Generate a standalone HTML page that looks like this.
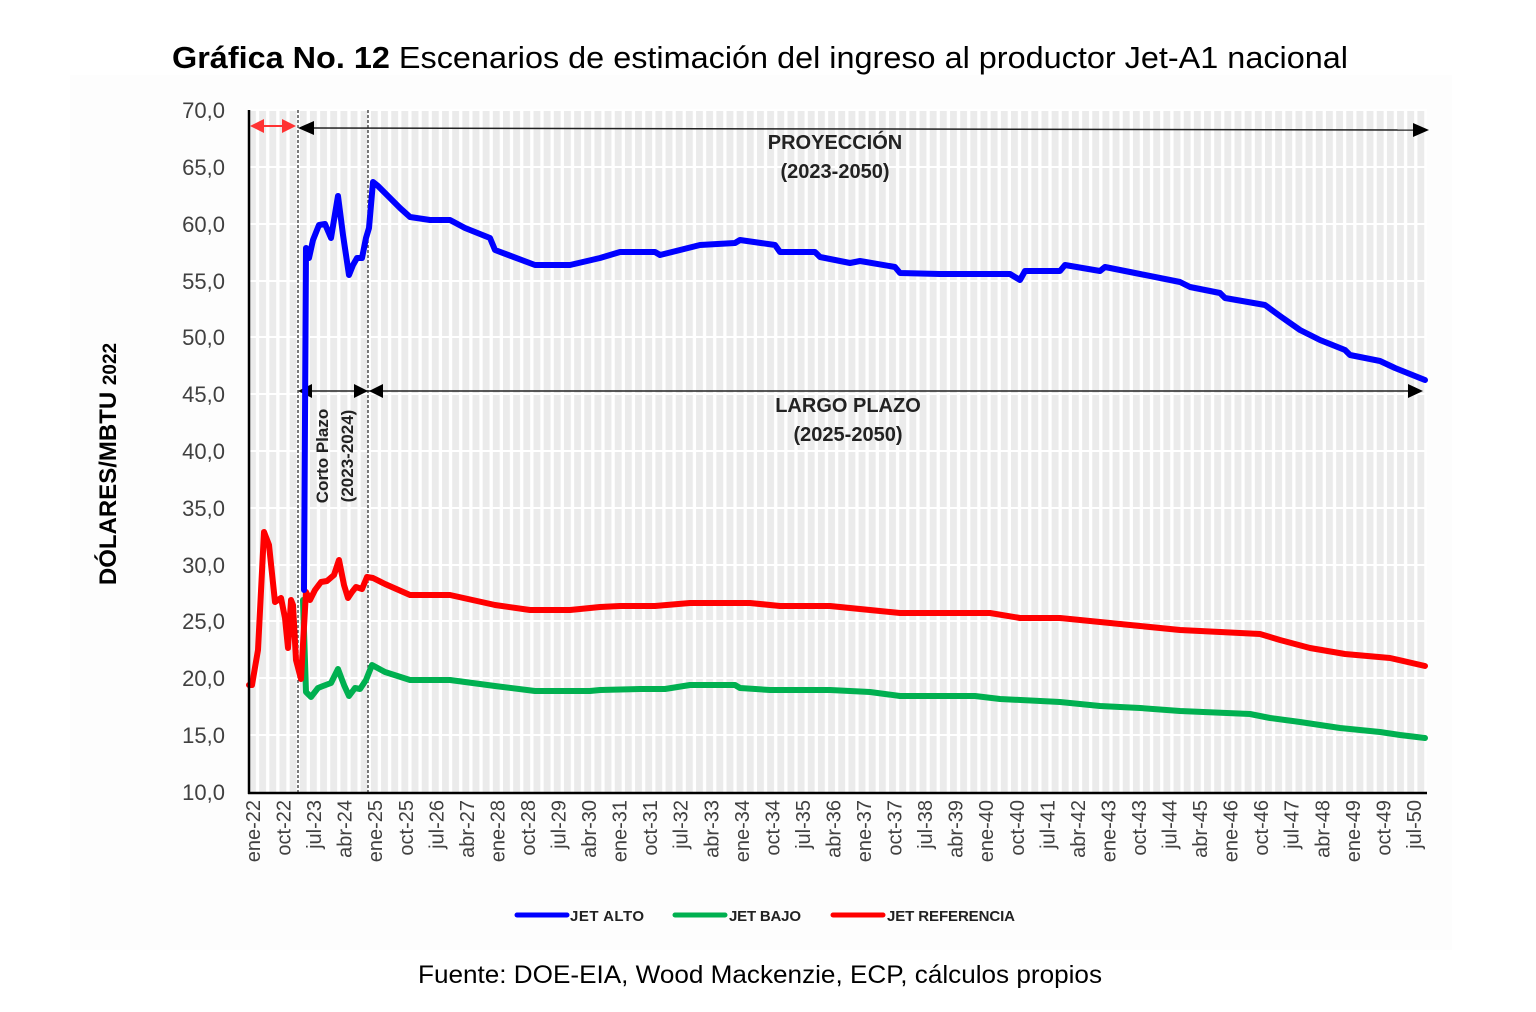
<!DOCTYPE html>
<html><head><meta charset="utf-8"><style>
html,body{margin:0;padding:0;background:#fff;}
svg{display:block;font-family:"Liberation Sans",sans-serif;}
</style></head><body>
<svg width="1536" height="1012" viewBox="0 0 1536 1012" xmlns="http://www.w3.org/2000/svg">
<defs>
<pattern id="st" x="249" y="0" width="10.16" height="10" patternUnits="userSpaceOnUse">
<rect x="0" y="0" width="7" height="10" fill="#ebebeb"/>
<rect x="7" y="0" width="3.16" height="10" fill="#fff"/>
</pattern>
</defs>
<rect x="70" y="75" width="1382" height="875" fill="#fdfdfd"/>
<text x="172" y="68" font-size="31" fill="#000" textLength="1176" lengthAdjust="spacingAndGlyphs"><tspan font-weight="bold">Gráfica No. 12</tspan> Escenarios de estimación del ingreso al productor Jet-A1 nacional</text>
<rect x="249" y="110" width="1178" height="682" fill="url(#st)"/>
<g stroke="#fff" stroke-width="2">
<line x1="249" x2="1427" y1="110" y2="110"/><line x1="249" x2="1427" y1="167" y2="167"/>
<line x1="249" x2="1427" y1="224" y2="224"/><line x1="249" x2="1427" y1="281" y2="281"/>
<line x1="249" x2="1427" y1="337" y2="337"/><line x1="249" x2="1427" y1="394" y2="394"/>
<line x1="249" x2="1427" y1="451" y2="451"/><line x1="249" x2="1427" y1="508" y2="508"/>
<line x1="249" x2="1427" y1="565" y2="565"/><line x1="249" x2="1427" y1="621" y2="621"/>
<line x1="249" x2="1427" y1="678" y2="678"/><line x1="249" x2="1427" y1="735" y2="735"/>
</g>
<g font-size="22" fill="#404040" text-anchor="end">
<text x="225" y="118">70,0</text><text x="225" y="175">65,0</text><text x="225" y="232">60,0</text>
<text x="225" y="289">55,0</text><text x="225" y="345">50,0</text><text x="225" y="402">45,0</text>
<text x="225" y="459">40,0</text><text x="225" y="516">35,0</text><text x="225" y="573">30,0</text>
<text x="225" y="629">25,0</text><text x="225" y="686">20,0</text><text x="225" y="743">15,0</text>
<text x="225" y="800">10,0</text>
</g>
<text transform="translate(116,464) rotate(-90)" text-anchor="middle" font-size="24" font-weight="bold">DÓLARES/MBTU <tspan font-size="19">2022</tspan></text>
<g stroke="#333" stroke-width="1.3" stroke-dasharray="3,2">
<line x1="298" y1="110" x2="298" y2="792"/><line x1="368" y1="110" x2="368" y2="792"/>
</g>
<line x1="312" y1="128" x2="1414" y2="130" stroke="#222" stroke-width="1.5"/>
<polygon points="298,128 314,121 314,135" fill="#000"/>
<polygon points="1429,130 1413,123 1413,137" fill="#000"/>
<line x1="262" y1="126" x2="284" y2="126" stroke="#f33" stroke-width="2"/>
<polygon points="250,126 264,119 264,133" fill="#f33"/>
<polygon points="296,126 282,119 282,133" fill="#f33"/>
<line x1="310" y1="391" x2="1410" y2="391" stroke="#222" stroke-width="1.5"/>
<polygon points="298,391 312,384 312,398" fill="#000"/>
<polygon points="368,391 354,384 354,398" fill="#000"/>
<polygon points="369,391 383,384 383,398" fill="#000"/>
<polygon points="1423,391 1408,384 1408,398" fill="#000"/>
<g font-size="20" font-weight="bold" fill="#222" text-anchor="middle">
<text x="835" y="149">PROYECCIÓN</text><text x="835" y="178">(2023-2050)</text>
<text x="848" y="412">LARGO PLAZO</text><text x="848" y="441">(2025-2050)</text>
<text transform="translate(328,456) rotate(-90)" font-size="17">Corto Plazo</text>
<text transform="translate(353,456) rotate(-90)" font-size="17">(2023-2024)</text>
</g>
<g fill="none" stroke-width="6" stroke-linejoin="round" stroke-linecap="round">
<polyline stroke="#00b050" points="303,600 306,692 311,697 318,688 323,686 331,683 338,669 344,685 349,696 355,688 360,689 366,680 372,665 385,672 410,680 450,680 495,686 535,691 590,691 600,690 640,689 665,689 690,685 735,685 740,688 770,690 830,690 870,692 900,696 975,696 1000,699 1060,702 1100,706 1140,708 1180,711 1250,714 1270,718 1300,722 1340,728 1380,732 1400,735 1425,738"/>
<polyline stroke="#ff0000" points="249,685 252,685 258,650 264,532 269,545 275,602 281,598 285,618 288,648 291,600 293,605 296,660 301,679 306,592 310,600 315,590 321,582 327,581 334,575 339,560 344,585 348,598 352,592 356,587 362,589 367,577 373,578 385,584 410,595 450,595 495,605 530,610 570,610 600,607 620,606 655,606 690,603 750,603 780,606 830,606 870,610 900,613 990,613 1020,618 1060,618 1100,622 1140,626 1180,630 1220,632 1260,634 1280,640 1310,648 1345,654 1390,658 1425,666"/>
<polyline stroke="#0000ff" points="304,590 306,248 309,258 313,240 319,225 325,224 331,238 338,196 343,235 349,275 353,265 357,258 362,258 366,238 369,228 373,182 378,186 385,193 400,208 410,217 430,220 450,220 465,228 490,238 495,250 535,265 570,265 600,258 620,252 655,252 660,255 700,245 735,243 740,240 775,245 780,252 815,252 820,257 850,263 860,261 895,267 900,273 940,274 1010,274 1020,280 1025,271 1060,271 1065,265 1100,271 1105,267 1140,274 1180,282 1190,287 1220,293 1225,298 1265,305 1280,316 1300,330 1320,340 1345,350 1350,355 1380,361 1395,368 1425,380"/>
</g>
<line x1="249" y1="110" x2="249" y2="794" stroke="#000" stroke-width="2.5"/>
<line x1="248" y1="793" x2="1427" y2="793" stroke="#000" stroke-width="2.5"/>
<g font-size="20" fill="#404040" text-anchor="end">
<text transform="translate(260,800) rotate(-90)">ene-22</text>
<text transform="translate(290.6,800) rotate(-90)">oct-22</text>
<text transform="translate(321.1,800) rotate(-90)">jul-23</text>
<text transform="translate(351.7,800) rotate(-90)">abr-24</text>
<text transform="translate(382.2,800) rotate(-90)">ene-25</text>
<text transform="translate(412.8,800) rotate(-90)">oct-25</text>
<text transform="translate(443.3,800) rotate(-90)">jul-26</text>
<text transform="translate(473.9,800) rotate(-90)">abr-27</text>
<text transform="translate(504.4,800) rotate(-90)">ene-28</text>
<text transform="translate(535,800) rotate(-90)">oct-28</text>
<text transform="translate(565.5,800) rotate(-90)">jul-29</text>
<text transform="translate(596.1,800) rotate(-90)">abr-30</text>
<text transform="translate(626.6,800) rotate(-90)">ene-31</text>
<text transform="translate(657.2,800) rotate(-90)">oct-31</text>
<text transform="translate(687.7,800) rotate(-90)">jul-32</text>
<text transform="translate(718.3,800) rotate(-90)">abr-33</text>
<text transform="translate(748.8,800) rotate(-90)">ene-34</text>
<text transform="translate(779.4,800) rotate(-90)">oct-34</text>
<text transform="translate(809.9,800) rotate(-90)">jul-35</text>
<text transform="translate(840.5,800) rotate(-90)">abr-36</text>
<text transform="translate(871,800) rotate(-90)">ene-37</text>
<text transform="translate(901.6,800) rotate(-90)">oct-37</text>
<text transform="translate(932.1,800) rotate(-90)">jul-38</text>
<text transform="translate(962.7,800) rotate(-90)">abr-39</text>
<text transform="translate(993.2,800) rotate(-90)">ene-40</text>
<text transform="translate(1023.8,800) rotate(-90)">oct-40</text>
<text transform="translate(1054.3,800) rotate(-90)">jul-41</text>
<text transform="translate(1084.9,800) rotate(-90)">abr-42</text>
<text transform="translate(1115.4,800) rotate(-90)">ene-43</text>
<text transform="translate(1146,800) rotate(-90)">oct-43</text>
<text transform="translate(1176.5,800) rotate(-90)">jul-44</text>
<text transform="translate(1207.1,800) rotate(-90)">abr-45</text>
<text transform="translate(1237.6,800) rotate(-90)">ene-46</text>
<text transform="translate(1268.2,800) rotate(-90)">oct-46</text>
<text transform="translate(1298.7,800) rotate(-90)">jul-47</text>
<text transform="translate(1329.3,800) rotate(-90)">abr-48</text>
<text transform="translate(1359.8,800) rotate(-90)">ene-49</text>
<text transform="translate(1390.4,800) rotate(-90)">oct-49</text>
<text transform="translate(1420.9,800) rotate(-90)">jul-50</text>
</g>
<g stroke-width="5" stroke-linecap="round">
<line x1="517" y1="915" x2="567" y2="915" stroke="#0000ff"/>
<line x1="675" y1="915" x2="725" y2="915" stroke="#00b050"/>
<line x1="833" y1="915" x2="883" y2="915" stroke="#ff0000"/>
</g>
<g font-size="15" font-weight="bold" fill="#222">
<text x="570" y="921" textLength="74">JET ALTO</text>
<text x="729" y="921" textLength="72">JET BAJO</text>
<text x="887" y="921" textLength="128">JET REFERENCIA</text>
</g>
<text x="418" y="983" font-size="25" textLength="684" lengthAdjust="spacingAndGlyphs">Fuente: DOE-EIA, Wood Mackenzie, ECP, cálculos propios</text>
</svg>
</body></html>
